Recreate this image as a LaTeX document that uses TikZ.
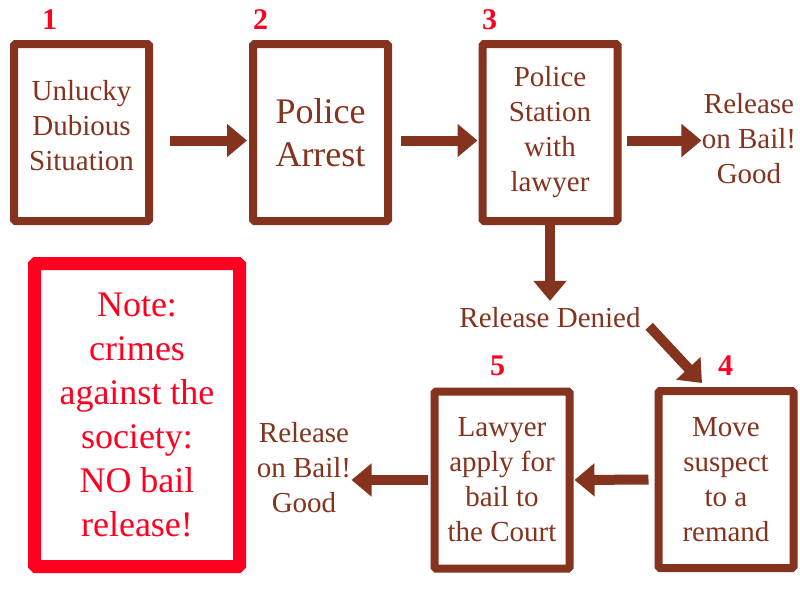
\documentclass[tikz,border=0pt]{standalone}
\usepackage{fontspec}
\setmainfont{Liberation Serif}
\usetikzlibrary{arrows.meta, positioning, calc}
\definecolor{stepBrown}{RGB}{132,51,30}
\definecolor{noteRed}{RGB}{255,0,32}
\tikzset{
    >={Triangle[length=10pt, width=16pt]},
    % Boxes
    stepbox/.style={rectangle, draw=stepBrown, line width=4pt, rounded corners=0.8pt,
                    minimum width=67.5pt, minimum height=88.5pt, align=center,
                    text=stepBrown, font=\fontsize{14.5}{17.5}\selectfont},
    notebox/.style={rectangle, draw=noteRed, line width=6.5pt, rounded corners=0.8pt,
                    minimum width=102.5pt, minimum height=151.5pt, align=center,
                    text=noteRed, font=\fontsize{18}{22}\selectfont},
    % Labels
    num/.style={inner sep=0pt, text=noteRed, font=\fontsize{15}{18}\selectfont\bfseries},
    lbl/.style={inner sep=0pt, align=center, text=stepBrown, font=\fontsize{14.5}{17.5}\selectfont},
    % Flow
    flow/.style={->, line width=5pt, draw=stepBrown}
}

\begin{document}
\begin{tikzpicture}[x=0.5pt, y=-0.5pt]

\path[use as bounding box, fill=white] (0,0) rectangle (800,600);

% Steps
\node[stepbox, text depth=7pt] (b1) at (81.5,132.5) {Unlucky\\Dubious\\Situation};
\node[stepbox, font=\fontsize{18}{21.5}\selectfont] (b2) at (320.5,132.5) {Police\\Arrest};
\node[stepbox] (b3) at (550,132.5) {Police\\Station\\with\\lawyer};
\node[stepbox] (b4) at (726,479.5) {Move\\suspect\\to a\\remand};
\node[stepbox] (b5) at (502,480) {Lawyer\\apply for\\bail to\\the Court};
\node[notebox] (note) at (137,415) {Note:\\crimes\\against the\\society:\\NO bail\\release!};

% Numbers
\node[num] (n1) at (49.5,20) {1};
\node[num] (n2) at (260.5,20) {2};
\node[num] (n3) at (489.5,20) {3};
\node[num] (n4) at (725.5,366) {4};
\node[num] (n5) at (497.5,366) {5};

% Outcomes
\node[lbl] (rel1) at (749,139) {Release\\on Bail!\\Good};
\node[lbl] (rel2) at (304,468) {Release\\on Bail!\\Good};
\node[lbl] (denied) at (550,317.5) {Release Denied};
\coordinate (dtip) at (702,383);

\draw[flow, shorten <=8.5pt, shorten >=1pt] ([yshift=-4pt]b1.east) -- ([yshift=-4pt]b2.west);
\draw[flow, shorten <=4.5pt, shorten >=0.5pt] ([yshift=-4pt]b2.east) -- ([yshift=-4pt]b3.west);
\draw[flow, shorten <=2.5pt] ([yshift=-4pt]b3.east) -- ([yshift=-4pt]b3.east -| rel1.west);
\draw[flow, shorten >=3pt] (b3.south) -- (denied.north);
\draw[flow, shorten <=6pt] (denied.east) -- (dtip);
\draw[flow, shorten <=3pt, shorten >=0.5pt] (b4.west) -- (b5.east);
\draw[flow, shorten <=1.5pt] (b5.west) -- (b5.west -| rel2.east);

\end{tikzpicture}
\end{document}
